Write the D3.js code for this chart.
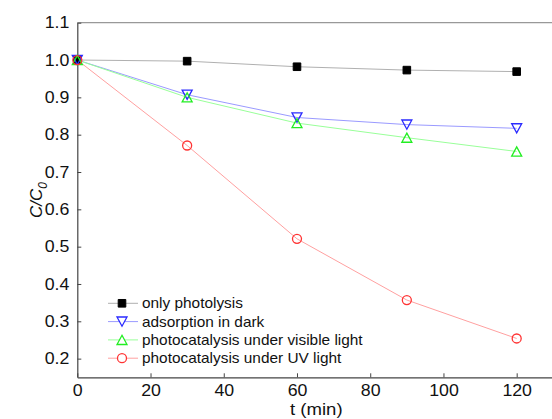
<!DOCTYPE html>
<html>
<head>
<meta charset="utf-8">
<script src="https://cdn.jsdelivr.net/npm/d3@7"></script>
<style>
  html, body { margin: 0; padding: 0; background: #fff; }
  svg { display: block; font-family: "Liberation Sans", Arial, sans-serif; }
</style>
</head>
<body>
<svg id="chart" width="552" height="419"></svg>
<script>
// Sampling times (min)
const times = [0, 30, 60, 90, 120];

// C/C0 for each experiment
const onlyPhotolysis = [1.0, 0.997, 0.982, 0.973, 0.969];
const adsorptionDark = [1.0, 0.907, 0.846, 0.827, 0.817];
const visibleLight   = [1.0, 0.900, 0.831, 0.792, 0.755];
const uvLight        = [1.0, 0.771, 0.521, 0.357, 0.254];

const seriesNames = [
  "only photolysis",
  "adsorption in dark",
  "photocatalysis under visible light",
  "photocatalysis under UV light"
];

const xTicks = [0, 20, 40, 60, 80, 100, 120];
const yTicks = [0.2, 0.3, 0.4, 0.5, 0.6, 0.7, 0.8, 0.9, 1.0, 1.1];

const series = [
  { name: seriesNames[0], values: onlyPhotolysis, line: "#b0b0b0", stroke: "#000", fill: "#000", symbol: "square" },
  { name: seriesNames[1], values: adsorptionDark, line: "#9a9aff", stroke: "#2a2aff", fill: "none", symbol: "down" },
  { name: seriesNames[2], values: visibleLight,   line: "#99ff99", stroke: "#22ee22", fill: "none", symbol: "up" },
  { name: seriesNames[3], values: uvLight,        line: "#ffa0a0", stroke: "#ff3333", fill: "none", symbol: "circle" }
];

const svg = d3.select("#chart");
const plotLeft = 77.3, plotRight = 553.3, plotTop = 22.7, plotBottom = 377.3;
const WIDEN = 1.11;   // horizontal widening applied to the lettering

const x = d3.scaleLinear().domain([0, 130]).range([plotLeft, plotRight]);
const y = d3.scaleLinear().domain([0.15, 1.1]).range([plotBottom, plotTop]);

// widen text horizontally while keeping its anchor point in place
function widen(sel, k) {
  sel.each(function () {
    const t = d3.select(this);
    const x0 = +t.attr("x") || 0;
    t.attr("x", x0 / k).attr("transform", `scale(${k},1)`);
  });
}

// Marker path generator centred on (0,0)
function markerPath(sym) {
  switch (sym) {
    case "square": return "M-3.8,-3.8H3.8V3.8H-3.8Z";
    case "down":   return "M-5,-4.6H5L0,4.6Z";
    case "up":     return "M0,-4.6L5,4.6H-5Z";
    default:       return "M4.5,0A4.5,4.5 0 1,1 -4.5,0A4.5,4.5 0 1,1 4.5,0Z";
  }
}

// top frame line
svg.append("line")
  .attr("x1", plotLeft).attr("x2", plotRight)
  .attr("y1", plotTop).attr("y2", plotTop)
  .attr("stroke", "#999").attr("stroke-width", 1.2);

// axes
const xAxis = d3.axisBottom(x).tickValues(xTicks).tickFormat(d3.format("d"))
  .tickSizeInner(-4).tickSizeOuter(0).tickPadding(7.5);
const yAxis = d3.axisLeft(y).tickValues(yTicks).tickFormat(d3.format(".1f"))
  .tickSizeInner(-4).tickSizeOuter(0).tickPadding(8);

const gx = svg.append("g").attr("transform", `translate(0,${plotBottom})`).call(xAxis);
const gy = svg.append("g").attr("transform", `translate(${plotLeft},0)`).call(yAxis);
[gx, gy].forEach(g => {
  g.select(".domain").attr("stroke", "#444").attr("stroke-width", 1.2);
  g.selectAll(".tick line").attr("stroke", "#444").attr("stroke-width", 1);
  g.selectAll(".tick text").attr("fill", "#111").style("font-size", "16px")
    .style("font-family", "'Liberation Sans', Arial, sans-serif")
    .call(widen, WIDEN);
});

// axis titles
svg.append("text")
  .attr("x", (plotLeft + plotRight) / 2 + 1).attr("y", 415)
  .attr("text-anchor", "middle").attr("fill", "#111")
  .style("font-size", "16px").text("t (min)")
  .call(widen, 1.16);

const yTitle = svg.append("text")
  .attr("transform", "translate(42,200) rotate(-90)")
  .attr("text-anchor", "middle").attr("fill", "#111")
  .style("font-size", "17px").style("font-style", "italic");
yTitle.append("tspan").text("C/C");
yTitle.append("tspan").attr("dy", 5).style("font-size", "12px").text("0");

// connecting lines
const lineGen = d3.line().x((d, i) => x(times[i])).y(d => y(d));
series.forEach(s => {
  svg.append("path").datum(s.values)
    .attr("d", lineGen).attr("fill", "none")
    .attr("stroke", s.line).attr("stroke-width", 1);
});

// markers
series.forEach(s => {
  svg.append("g").selectAll("path").data(s.values).join("path")
    .attr("transform", (d, i) => `translate(${x(times[i])},${y(d)})`)
    .attr("d", markerPath(s.symbol))
    .attr("fill", s.fill).attr("stroke", s.stroke)
    .attr("stroke-width", s.symbol === "square" ? 1 : 1.3);
});

// legend
const legend = svg.append("g").attr("transform", "translate(108,303.3)");
series.forEach((s, i) => {
  const row = legend.append("g").attr("transform", `translate(0,${i * 18.3})`);
  row.append("line").attr("x1", 0).attr("x2", 30).attr("y1", 0).attr("y2", 0)
    .attr("stroke", s.line).attr("stroke-width", 1);
  row.append("path").attr("transform", "translate(14,0)")
    .attr("d", markerPath(s.symbol))
    .attr("fill", s.fill === "none" ? "#fff" : s.fill).attr("stroke", s.stroke)
    .attr("stroke-width", s.symbol === "square" ? 1 : 1.3);
  row.append("text").attr("x", 34).attr("y", 0).attr("dy", "0.35em")
    .attr("fill", "#111").style("font-size", "14px").text(s.name)
    .call(widen, 1.1);
});
</script>
</body>
</html>
